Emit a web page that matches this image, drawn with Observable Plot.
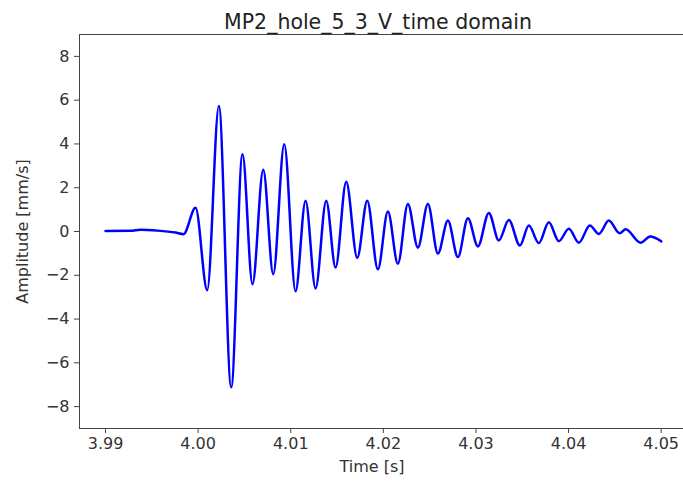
<!DOCTYPE html>
<html>
<head>
<meta charset="utf-8">
<script src="https://cdn.jsdelivr.net/npm/d3@7"></script>
<script src="https://cdn.jsdelivr.net/npm/@observablehq/plot@0.6"></script>
<style>
  body { margin: 0; background: white; }
  #chart svg { overflow: hidden; }
</style>
</head>
<body>
<div id="chart"></div>
<script>
const title = "MP2_hole_5_3_V_time domain";
const xLabel = "Time [s]";
const yLabel = "Amplitude [mm/s]";
const xTicks = [3.99, 4.00, 4.01, 4.02, 4.03, 4.04, 4.05];
const yTicks = [-8, -6, -4, -2, 0, 2, 4, 6, 8];
const xDomain = [3.98719, 4.05295];
const yDomain = [-9, 9];

const time = [
  3.99000, 3.99270, 3.99378, 3.99562, 3.99756, 3.99842,
  3.99972, 4.00098, 4.00224, 4.00357, 4.00479, 4.00587,
  4.00703, 4.00811, 4.00930, 4.01052, 4.01160, 4.01268,
  4.01383, 4.01484, 4.01599, 4.01718, 4.01826, 4.01941,
  4.02049, 4.02157, 4.02265, 4.02373, 4.02481, 4.02589,
  4.02697, 4.02805, 4.02913, 4.03021, 4.03139, 4.03247,
  4.03355, 4.03474, 4.03571, 4.03679, 4.03787, 4.03895,
  4.04003, 4.04111, 4.04230, 4.04327, 4.04435, 4.04551,
  4.04616, 4.04778, 4.04882, 4.05001
];
const amplitude = [
  0.02, 0.03, 0.08, 0.04, -0.05, -0.12,
  1.08, -2.68, 5.73, -7.12, 3.53, -2.41,
  2.82, -1.95, 3.99, -2.73, 1.41, -2.60,
  1.41, -1.65, 2.27, -1.20, 1.41, -1.73,
  0.91, -1.47, 1.26, -0.74, 1.26, -1.01,
  0.50, -1.17, 0.61, -0.68, 0.85, -0.41,
  0.53, -0.64, 0.27, -0.53, 0.42, -0.44,
  0.12, -0.51, 0.27, -0.11, 0.50, -0.08,
  0.10, -0.51, -0.23, -0.45
];

const data = time.map((t, i) => ({t, a: amplitude[i]}));
const minus = (v) => String(v).replace("-", "\u2212");

const chart = Plot.plot({
  width: 683,
  height: 485,
  marginLeft: 79,
  marginRight: -5,
  marginTop: 34,
  marginBottom: 57,
  style: {fontFamily: "DejaVu Sans", background: "white", color: "#222"},
  x: {domain: xDomain},
  y: {domain: yDomain},
  marks: [
    Plot.ruleY(yDomain, {stroke: "#444", strokeWidth: 1}),
    Plot.ruleX([xDomain[0]], {stroke: "#444", strokeWidth: 1}),
    Plot.axisX(xTicks, {
      anchor: "bottom", tickSize: 5, tickPadding: 4, fontSize: 16,
      tickFormat: d3.format(".2f"), label: null, stroke: "#444", fill: "#333"
    }),
    Plot.axisY(yTicks, {
      anchor: "left", tickSize: 5, tickPadding: 5, fontSize: 16,
      tickFormat: minus, label: null, stroke: "#444", fill: "#333"
    }),
    Plot.line(data, {x: "t", y: "a", stroke: "#0000ff", strokeWidth: 2.5, curve: "monotone-x"}),
    Plot.text([title], {frameAnchor: "top", dx: -6, dy: -20, fontSize: 20.5, fill: "#222"}),
    Plot.text([xLabel], {frameAnchor: "bottom", dx: -12, dy: 43, fontSize: 16, fill: "#333"}),
    Plot.text([yLabel], {frameAnchor: "left", dx: -57, rotate: -90, textAnchor: "middle", fontSize: 16, fill: "#333"})
  ]
});
document.getElementById("chart").appendChild(chart);
</script>
</body>
</html>
